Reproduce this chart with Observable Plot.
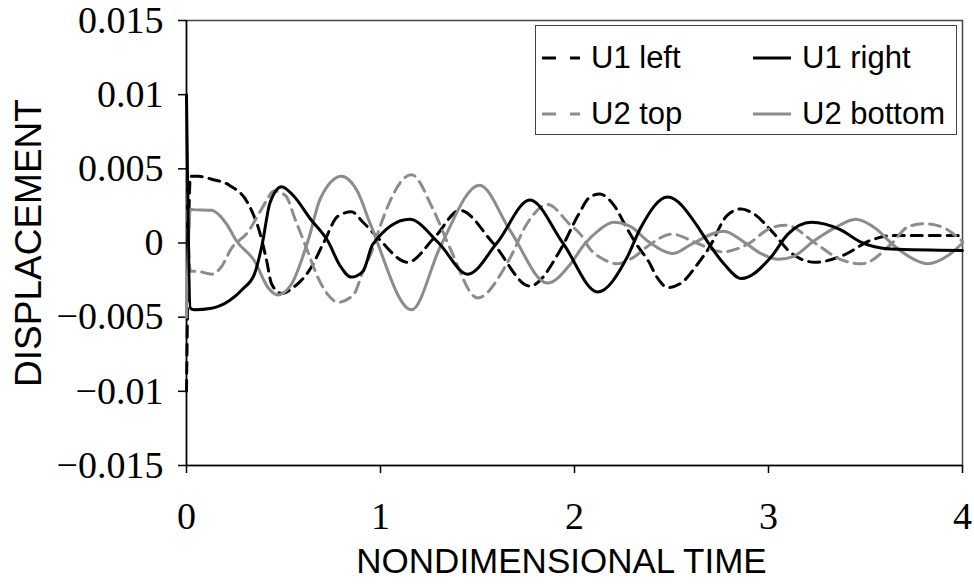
<!DOCTYPE html>
<html><head><meta charset="utf-8">
<script src="https://cdn.jsdelivr.net/npm/d3@7"></script>
<script src="https://cdn.jsdelivr.net/npm/@observablehq/plot@0.6"></script>
<style>
body{margin:0;background:#fff}
#wrap{position:relative;width:974px;height:585px;overflow:hidden;background:#fff}
#wrap svg{overflow:visible}
#legend{position:absolute;left:535px;top:25px;width:420px;height:108px;border:1.5px solid #444;background:#fff;font-family:"Liberation Sans",Arial,sans-serif;font-size:31px;color:#000}
.item{position:absolute;display:flex;align-items:center;white-space:nowrap;height:40px}
.item svg{margin-right:11px}
</style></head><body><div id="wrap"></div>
<script>
const xTicks=[0,1,2,3,4];
const yTicks=[-0.015,-0.01,-0.005,0,0.005,0.01,0.015];
const yTickLabels=["−0.015","−0.01","−0.005","0","0.005","0.01","0.015"];
const seriesNames=["U1 left","U1 right","U2 top","U2 bottom"];

const u1LeftT=[0,0.02,0.06,0.13,0.22,0.32,0.38,0.41,0.44,0.49,0.55,0.64,0.71,0.78,0.85,0.91,0.99,1.14,1.28,1.41,1.58,1.77,1.93,2.02,2.08,2.13,2.20,2.27,2.32,2.38,2.43,2.48,2.55,2.63,2.69,2.79,2.86,2.92,3.03,3.11,3.24,3.39,3.53,3.64,4.0];
const u1LeftV=[-0.01,0.0045,0.0045,0.0043,0.0039,0.0026,0.0006,-0.001,-0.0028,-0.0034,-0.003,-0.0017,0.0001,0.0018,0.0021,0.0014,0.0003,-0.0013,0.0004,0.0022,0,-0.0029,-0.0004,0.0019,0.0031,0.0033,0.0026,0.001,-0.0001,-0.0012,-0.0024,-0.003,-0.0027,-0.0015,-0.0004,0.0019,0.0023,0.002,0.0006,-0.0006,-0.0013,-0.0008,0.0002,0.0005,0.0005];

const u1RightT=[0,0.02,0.04,0.13,0.22,0.29,0.35,0.39,0.43,0.49,0.55,0.64,0.73,0.79,0.85,0.91,0.96,1.15,1.30,1.45,1.60,1.77,1.94,2.12,2.27,2.34,2.48,2.63,2.66,2.77,2.86,3.01,3.10,3.22,3.37,3.47,3.63,4.0];
const u1RightV=[0.01,-0.0044,-0.0045,-0.0044,-0.0039,-0.0031,-0.0021,-0.0001,0.0027,0.0038,0.0032,0.0016,0.0001,-0.0015,-0.0023,-0.0019,-0.0001,0.0016,0,-0.0021,0,0.0029,0,-0.0033,-0.001,0.001,0.0031,0.0012,0.0006,-0.0014,-0.0024,-0.001,0.0006,0.0014,0.0009,0.0001,-0.0004,-0.0005];

const u2TopT=[0,0.02,0.05,0.13,0.18,0.23,0.32,0.37,0.41,0.45,0.51,0.56,0.62,0.68,0.73,0.78,0.86,0.91,0.96,1.00,1.16,1.27,1.36,1.50,1.66,1.76,1.86,1.98,2.03,2.08,2.15,2.22,2.30,2.39,2.50,2.63,2.76,2.89,3.01,3.09,3.25,3.37,3.48,3.63,3.72,3.80,3.89,4.0];
const u2TopV=[0.0046,-0.0019,-0.0019,-0.0021,-0.0016,-0.0004,0.0008,0.0019,0.0028,0.0035,0.0032,0.0016,-0.0004,-0.0024,-0.0035,-0.004,-0.0035,-0.0019,-0.0004,0.0012,0.0046,0.0023,-0.0004,-0.0037,-0.0012,0.0014,0.0026,0.0012,0.0006,-0.0004,-0.0011,-0.0014,-0.001,-0.0001,0.0006,0,-0.0006,-0.0001,0.001,0.0012,-0.0001,-0.0011,-0.0014,-0.0001,0.0011,0.0013,0.0011,0.0001];

const u2BottomT=[0,0.02,0.03,0.13,0.20,0.26,0.35,0.42,0.47,0.54,0.63,0.69,0.80,0.88,0.95,1.16,1.31,1.51,1.67,1.86,1.98,2.05,2.12,2.20,2.29,2.38,2.51,2.60,2.77,2.87,2.96,3.05,3.13,3.23,3.34,3.45,3.56,3.64,3.75,3.82,3.92,4.0];
const u2BottomV=[-0.005,0.0023,0.00225,0.0022,0.0014,0.0001,-0.0012,-0.003,-0.0035,-0.0028,0.0003,0.003,0.0045,0.0035,0.0012,-0.0045,-0.0002,0.0039,0.0008,-0.0027,-0.0014,-0.0001,0.0008,0.0014,0.0011,0.0001,-0.0007,-0.0001,0.0008,0.0001,-0.0007,-0.0011,-0.0009,0.0001,0.001,0.0016,0.0009,-0.0001,-0.0011,-0.0014,-0.0009,0];

const toRows=(T,V)=>T.map((t,i)=>({t,v:V[i]}));
const u1Left=toRows(u1LeftT,u1LeftV);
const u1Right=toRows(u1RightT,u1RightV);
const u2Top=toRows(u2TopT,u2TopV);
const u2Bottom=toRows(u2BottomT,u2BottomV);

const black="#000", gray="#8c8c8c", dash="11,7";
const lineOpts=(stroke,dashed)=>({x:"t",y:"v",stroke,strokeWidth:3,curve:"monotone-x",strokeDasharray:dashed?dash:null,strokeLinejoin:"round"});

const chart=Plot.plot({
  width:974,height:585,
  marginLeft:186,marginRight:12,marginTop:20,marginBottom:120,
  x:{domain:[0,4]},
  y:{domain:[-0.015,0.015]},
  style:{background:"white",color:"black",fontFamily:"'Liberation Serif',serif",fontSize:"38px",overflow:"visible"},
  marks:[
    Plot.frame({stroke:"#444",strokeWidth:1.5}),
    Plot.axisX({ticks:xTicks,tickSize:8,tickPadding:29,tickFormat:d=>String(d),label:null,strokeWidth:1.5,fontSize:38}),
    Plot.axisY({ticks:yTicks,tickSize:8,tickPadding:15,tickFormat:d=>yTickLabels[yTicks.indexOf(d)],label:null,strokeWidth:1.5,fontSize:38}),
    Plot.ruleX([0],{stroke:"#000",strokeWidth:1.5}),
    Plot.ruleY([-0.015],{stroke:"#000",strokeWidth:1.5}),
    Plot.line(u1Left,lineOpts(black,true)),
    Plot.line(u2Top,lineOpts(gray,true)),
    Plot.line(u2Bottom,lineOpts(gray,false)),
    Plot.line(u1Right,lineOpts(black,false)),
    Plot.text(["NONDIMENSIONAL TIME"],{frameAnchor:"bottom",dy:96,dx:-13,lineAnchor:"middle",textAnchor:"middle",fontFamily:"'Liberation Sans',Arial,sans-serif",fontSize:35,fill:"#000"}),
    Plot.text(["DISPLACEMENT"],{frameAnchor:"left",dx:-157,rotate:-90,textAnchor:"middle",lineAnchor:"middle",fontFamily:"'Liberation Sans',Arial,sans-serif",fontSize:37,fill:"#000"})
  ]
});
const wrap=document.getElementById("wrap");
wrap.appendChild(chart);

// legend
const legend=document.createElement("div");
legend.id="legend";
const styles=[[black,true],[black,false],[gray,true],[gray,false]];
const pos=[[6,12],[217,12],[6,68],[217,68]];
seriesNames.forEach((name,i)=>{
  const it=document.createElement("div");
  it.className="item";
  it.style.left=pos[i][0]+"px";
  it.style.top=pos[i][1]+"px";
  const [c,d]=styles[i];
  it.innerHTML=`<svg width="38" height="10"><line x1="0" y1="5" x2="38" y2="5" stroke="${c}" stroke-width="3" ${d?'stroke-dasharray="14,14"':''}/></svg><span>${name}</span>`;
  legend.appendChild(it);
});
wrap.appendChild(legend);
</script></body></html>
